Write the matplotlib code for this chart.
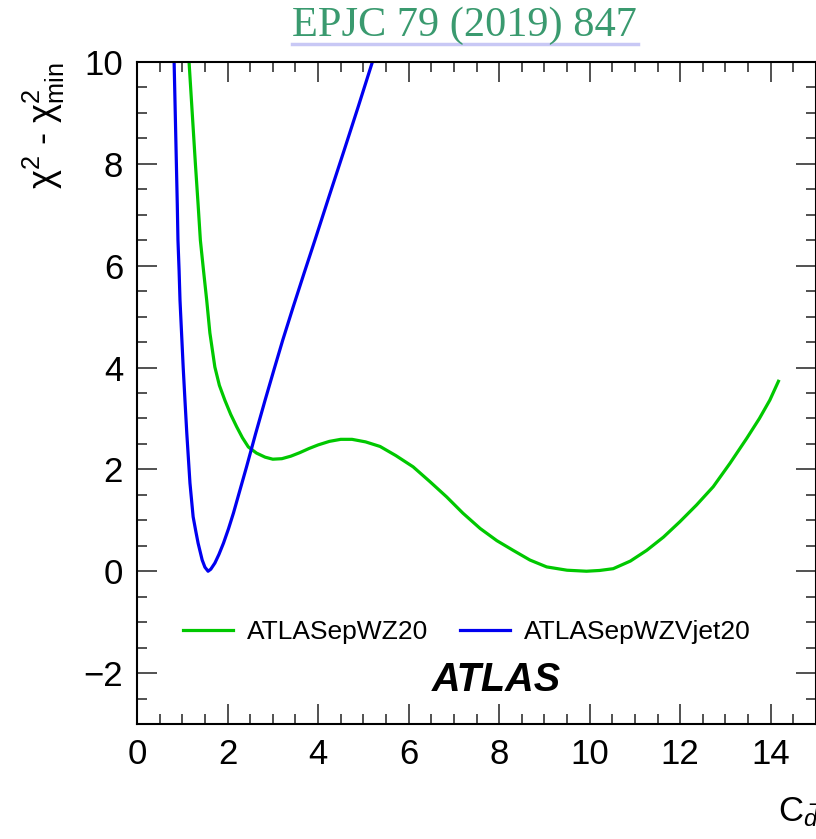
import matplotlib
matplotlib.use("Agg")
import matplotlib.pyplot as plt
from matplotlib.lines import Line2D
from matplotlib.ticker import MultipleLocator

plt.rcParams['font.family'] = ['Liberation Sans', 'DejaVu Sans']
plt.rcParams['mathtext.fontset'] = 'custom'
plt.rcParams['mathtext.rm'] = 'Liberation Sans'
plt.rcParams['mathtext.it'] = 'Liberation Sans:italic'

# chi2 - chi2_min scan
wz_x = [1.15, 1.22, 1.29, 1.35, 1.40, 1.47, 1.54, 1.61, 1.72, 1.82, 1.94, 2.07,
        2.20, 2.33, 2.46, 2.64, 2.83, 3.00, 3.20, 3.40, 3.60, 3.80, 4.00, 4.25,
        4.50, 4.75, 5.05, 5.37, 5.72, 6.10, 6.47, 6.84, 7.20, 7.58, 7.95, 8.31,
        8.68, 9.05, 9.50, 9.93, 10.22, 10.52, 10.90, 11.26, 11.63, 11.99, 12.36,
        12.73, 13.10, 13.47, 13.75, 13.98, 14.17]
wz_y = [10.0, 9.0, 8.0, 7.2, 6.5, 5.9, 5.32, 4.68, 4.01, 3.65, 3.36, 3.08,
        2.84, 2.62, 2.44, 2.32, 2.24, 2.20, 2.21, 2.26, 2.33, 2.41, 2.48, 2.55,
        2.59, 2.59, 2.54, 2.45, 2.27, 2.05, 1.76, 1.46, 1.14, 0.84, 0.60, 0.41,
        0.22, 0.085, 0.02, 0.0, 0.015, 0.05, 0.20, 0.41, 0.67, 0.97, 1.30,
        1.66, 2.12, 2.61, 3.00, 3.36, 3.73]

vjet_x = [0.82, 0.845, 0.87, 0.89, 0.905, 0.93, 0.95, 1.02, 1.06, 1.10, 1.17,
          1.24, 1.30, 1.35, 1.44, 1.50, 1.57, 1.63, 1.72, 1.81, 1.91, 2.02,
          2.13, 2.27, 2.42, 2.62, 2.83, 3.03, 3.22, 3.45, 3.69, 3.93, 4.25,
          4.57, 4.89, 5.20]
vjet_y = [10.0, 9.0, 8.0, 7.2, 6.5, 5.9, 5.32, 4.01, 3.35, 2.71, 1.73,
          1.07, 0.78, 0.55, 0.22, 0.08, 0.0, 0.04, 0.16, 0.33, 0.55, 0.83,
          1.14, 1.58, 2.05, 2.70, 3.36, 3.97, 4.54, 5.19, 5.85, 6.5, 7.38,
          8.25, 9.13, 10.0]

labels = ['ATLASepWZ20', 'ATLASepWZVjet20']

fig = plt.figure(figsize=(8.16, 8.39), dpi=100)
ax = fig.add_axes([137/816, 1 - 724/839, 1 - 137/816, (724 - 62)/839])

ax.plot(wz_x, wz_y, color='#00c800', lw=2.3, label=labels[0])
ax.plot(vjet_x, vjet_y, color='#0000f0', lw=2.3, label=labels[1])

ax.set_xlim(0, 15)
ax.set_ylim(-3, 10)
ax.xaxis.set_major_locator(MultipleLocator(2))
ax.xaxis.set_minor_locator(MultipleLocator(0.5))
ax.yaxis.set_major_locator(MultipleLocator(2))
ax.yaxis.set_minor_locator(MultipleLocator(0.5))
ax.tick_params(which='both', direction='in', top=True, right=True, width=1.1, color='#222222')
ax.tick_params(which='major', length=14.5, labelsize=25, pad=10)
ax.tick_params(which='minor', length=7.2)
for s in ax.spines.values():
    s.set_linewidth(1.5)

ax.set_ylabel(r'χ$^{2}$ - χ$^{2}_{\rm min}$', fontsize=26, loc='top')
ax.yaxis.set_label_coords(-0.103, 1.0)

ax.legend(ncol=2, loc='center left', bbox_to_anchor=(0.068, 0.139), frameon=False,
          fontsize=19, handlelength=1.9, handletextpad=0.53, columnspacing=1.2,
          borderpad=0, borderaxespad=0)

ax.text(7.93, -2.14, 'ATLAS', fontsize=28.5, fontweight='bold', fontstyle='italic',
        ha='center', va='center')

# x axis title, cut off at the corner like the original
fig.text(778/816, 1 - 812/839, r'C$_{\bar{d}}$', fontsize=25, ha='left', va='center')

fig.text(464/816, 1 - 26/839, 'EPJC 79 (2019) 847', fontsize=30.5, color='#3a9a6f',
         family='Liberation Serif', ha='center', va='center')
fig.add_artist(Line2D([292/816, 638/816], [1 - 44/839, 1 - 44/839], color='#c8c8f5', lw=2.5))

fig.savefig('out.png', dpi=100)
